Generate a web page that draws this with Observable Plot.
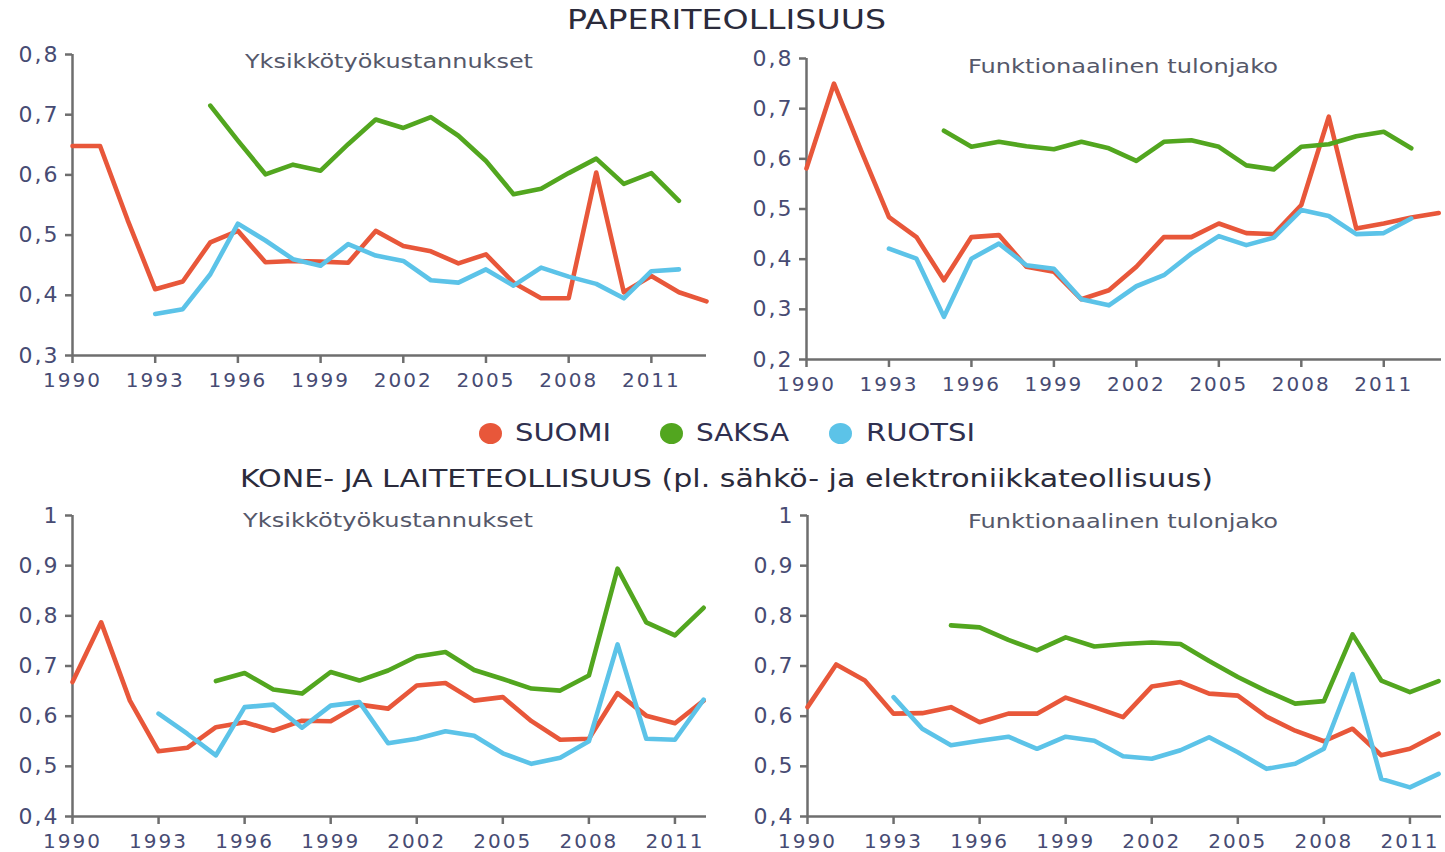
<!DOCTYPE html>
<html><head><meta charset="utf-8">
<script src="https://cdn.jsdelivr.net/npm/d3@7"></script>
<script src="https://cdn.jsdelivr.net/npm/@observablehq/plot@0.6"></script>
<style>
body{margin:0;background:#fff;}
#root{position:relative;width:1445px;height:852px;overflow:hidden;background:#fff;font-family:"DejaVu Sans",sans-serif;}
.t{position:absolute;white-space:nowrap;line-height:1;transform-origin:0 50%;}
.dot{position:absolute;border-radius:50%;}
</style></head><body><div id="root"></div>
<script>
// ---------- data ----------
const years1 = [1990,1991,1992,1993,1994,1995,1996,1997,1998,1999,2000,2001,2002,2003,2004,2005,2006,2007,2008,2009,2010,2011,2012,2013];
const years2 = [1990,1991,1992,1993,1994,1995,1996,1997,1998,1999,2000,2001,2002,2003,2004,2005,2006,2007,2008,2009,2010,2011,2012];
const xTicks = [1990,1993,1996,1999,2002,2005,2008,2011];

// Paperiteollisuus – Yksikkötyökustannukset
const paperUlcSuomi  = [0.648,0.648,0.525,0.41,0.423,0.488,0.507,0.455,0.457,0.456,0.454,0.507,0.482,0.473,0.453,0.468,0.421,0.395,0.395,0.604,0.405,0.432,0.405,0.39];
const paperUlcSaksa  = [null,null,null,null,null,0.715,0.657,0.601,0.617,0.607,0.651,0.692,0.678,0.696,0.665,0.623,0.568,0.577,0.603,0.627,0.585,0.603,0.557,null];
const paperUlcRuotsi = [null,null,null,0.369,0.377,0.435,0.519,0.491,0.46,0.449,0.485,0.466,0.457,0.425,0.421,0.443,0.416,0.446,0.431,0.419,0.395,0.44,0.443,null];
// Paperiteollisuus – Funktionaalinen tulonjako
const paperFiSuomi  = [0.581,0.75,0.615,0.484,0.444,0.358,0.444,0.448,0.385,0.375,0.32,0.338,0.385,0.444,0.444,0.471,0.452,0.45,0.508,0.684,0.461,0.471,0.483,0.492];
const paperFiSaksa  = [null,null,null,null,null,0.656,0.624,0.634,0.625,0.619,0.634,0.621,0.596,0.634,0.637,0.624,0.587,0.579,0.624,0.629,0.645,0.654,0.621,null];
const paperFiRuotsi = [null,null,null,0.421,0.401,0.285,0.401,0.431,0.388,0.381,0.32,0.308,0.346,0.368,0.411,0.446,0.428,0.443,0.498,0.486,0.45,0.452,0.481,null];
// Kone- ja laiteteollisuus – Yksikkötyökustannukset
const machUlcSuomi  = [0.668,0.787,0.631,0.53,0.537,0.578,0.588,0.571,0.591,0.59,0.623,0.615,0.661,0.666,0.631,0.638,0.59,0.553,0.555,0.646,0.601,0.586,0.631];
const machUlcSaksa  = [null,null,null,null,null,0.67,0.686,0.653,0.645,0.688,0.671,0.691,0.719,0.728,0.692,0.674,0.655,0.651,0.681,0.894,0.787,0.761,0.816];
const machUlcRuotsi = [null,null,null,0.605,0.565,0.522,0.618,0.623,0.577,0.621,0.628,0.546,0.555,0.57,0.561,0.526,0.505,0.517,0.55,0.743,0.555,0.553,0.633];
// Kone- ja laiteteollisuus – Funktionaalinen tulonjako
const machFiSuomi  = [0.618,0.703,0.671,0.605,0.606,0.618,0.588,0.605,0.605,0.637,0.618,0.598,0.659,0.668,0.645,0.641,0.599,0.571,0.55,0.575,0.522,0.535,0.565];
const machFiSaksa  = [null,null,null,null,null,0.781,0.777,0.752,0.731,0.757,0.739,0.744,0.747,0.744,0.71,0.678,0.65,0.625,0.63,0.763,0.671,0.648,0.67];
const machFiRuotsi = [null,null,null,0.638,0.575,0.542,0.551,0.559,0.535,0.559,0.551,0.52,0.515,0.532,0.558,0.528,0.495,0.505,0.535,0.684,0.475,0.458,0.485];

const yTicksPaper1 = [0.3,0.4,0.5,0.6,0.7,0.8];
const yTicksPaper2 = [0.2,0.3,0.4,0.5,0.6,0.7,0.8];
const yTicksMach   = [0.4,0.5,0.6,0.7,0.8,0.9,1];

const seriesNames = ["SUOMI","SAKSA","RUOTSI"];
const seriesColors = ["#e8573a","#52a61f","#5cc3e8"];
const title1 = "PAPERITEOLLISUUS";
const title2 = "KONE- JA LAITETEOLLISUUS (pl. sähkö- ja elektroniikkateollisuus)";
const subtitleUlc = "Yksikkötyökustannukset";
const subtitleFi = "Funktionaalinen tulonjako";

// ---------- drawing ----------
const root = document.getElementById("root");
const axisColor = "#6e6e6e";
const fmtY = d => String(d).replace(".", ",");

function panel(cfg) {
  const {years, series, yDomain, yTicks, xMax, left, top, width, height, mL, mR, mT, mB} = cfg;
  const svg = Plot.plot({
    width, height, marginLeft: mL, marginRight: mR, marginTop: mT, marginBottom: mB,
    style: {fontFamily: "'DejaVu Sans', sans-serif", fontSize: "20px", color: "#474b73", letterSpacing: "2px", background: "transparent", overflow: "visible"},
    x: {domain: [1990, xMax]},
    y: {domain: yDomain},
    marks: [
      Plot.axisX({ticks: xTicks, tickFormat: d => String(d), tickSize: 8, tickPadding: 9, fontSize: 20, stroke: axisColor, strokeWidth: 2.5, label: null}),
      Plot.axisY({ticks: yTicks, tickFormat: fmtY, tickSize: 7, tickPadding: 6, fontSize: 22, stroke: axisColor, strokeWidth: 2.5, label: null}),
      Plot.ruleX([1990], {stroke: axisColor, strokeWidth: 2.5}),
      Plot.ruleY([yDomain[0]], {stroke: axisColor, strokeWidth: 2.5}),
      ...series.map((vals, i) => Plot.line(vals, {x: years, y: vals, stroke: seriesColors[i], strokeWidth: 4.6}))
    ]
  });
  svg.style.position = "absolute";
  svg.style.left = left + "px";
  svg.style.top = top + "px";
  svg.style.maxWidth = "none";
  root.appendChild(svg);
}

panel({years: years1, series: [paperUlcSuomi, paperUlcSaksa, paperUlcRuotsi], yDomain: [0.3, 0.8], yTicks: yTicksPaper1, xMax: 2013,
  left: 0, top: 40, width: 720, height: 360, mL: 72, mR: 14, mT: 14, mB: 45});
panel({years: years1, series: [paperFiSuomi, paperFiSaksa, paperFiRuotsi], yDomain: [0.2, 0.8], yTicks: yTicksPaper2, xMax: 2013.1,
  left: 730, top: 40, width: 715, height: 365, mL: 76, mR: 4, mT: 18, mB: 46});
panel({years: years2, series: [machUlcSuomi, machUlcSaksa, machUlcRuotsi], yDomain: [0.4, 1], yTicks: yTicksMach, xMax: 2012.1,
  left: 0, top: 500, width: 720, height: 352, mL: 72, mR: 14, mT: 15, mB: 36});
panel({years: years2, series: [machFiSuomi, machFiSaksa, machFiRuotsi], yDomain: [0.4, 1], yTicks: yTicksMach, xMax: 2012.1,
  left: 730, top: 500, width: 715, height: 352, mL: 77, mR: 4, mT: 15, mB: 36});

function addText(s, x0, x1, yc, fs, color) {
  const d = document.createElement("div");
  d.className = "t";
  d.textContent = s;
  d.style.fontSize = fs + "px";
  d.style.color = color;
  d.style.left = x0 + "px";
  d.style.top = (yc - 0.48 * fs) + "px";
  root.appendChild(d);
  const w = d.getBoundingClientRect().width;
  d.style.transform = `scaleX(${(x1 - x0) / w})`;
}

addText(title1, 567, 886, 19, 26, "#2b2b3b");
addText(subtitleUlc, 245, 533, 61, 20, "#55586a");
addText(subtitleFi, 968, 1278, 66, 20, "#55586a");
addText(title2, 240, 1213, 478, 25, "#2b2b3b");
addText(subtitleUlc, 243, 533, 520, 20, "#55586a");
addText(subtitleFi, 968, 1278, 521, 20, "#55586a");

// legend
const legendDotX = [490, 671, 840];
const legendTextX = [[515, 611], [696, 789], [866, 975]];
seriesNames.forEach((name, i) => {
  const dot = document.createElement("div");
  dot.className = "dot";
  dot.style.width = "23px"; dot.style.height = "21px";
  dot.style.left = (legendDotX[i] - 11.5) + "px";
  dot.style.top = (433 - 10.5) + "px";
  dot.style.background = seriesColors[i];
  root.appendChild(dot);
  addText(name, legendTextX[i][0], legendTextX[i][1], 433, 24, "#2f3050");
});
</script>
</body></html>
